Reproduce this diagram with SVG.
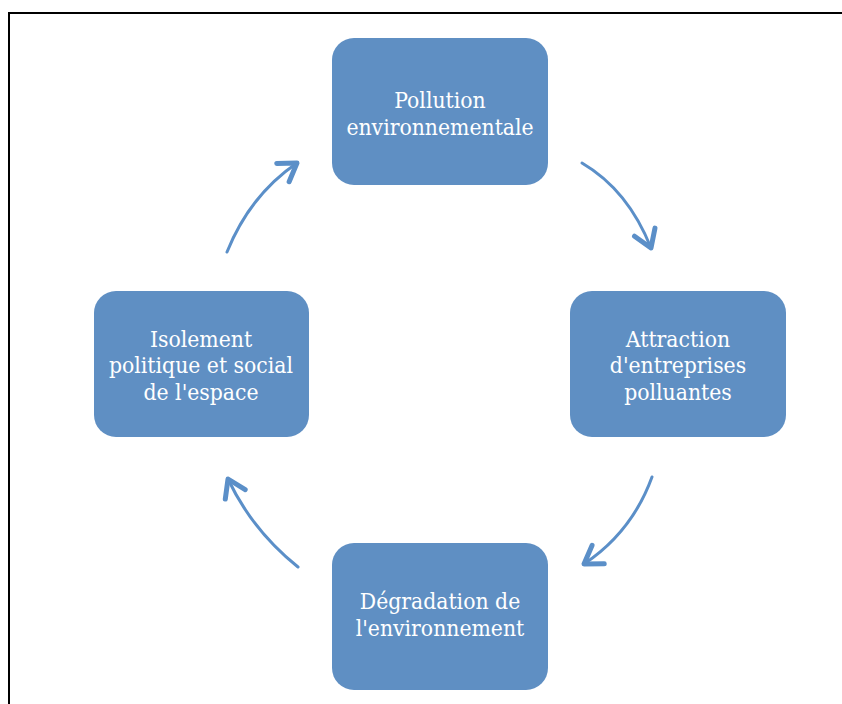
<svg xmlns="http://www.w3.org/2000/svg" width="842" height="704" viewBox="0 0 842 704">
<style>
.node rect{fill:#5f8fc3;}
.node text{fill:#ffffff;font-family:"DejaVu Serif Condensed","DejaVu Serif","Liberation Serif",serif;font-stretch:condensed;font-size:22.7px;text-anchor:middle;}
.conn path{fill:none;stroke:#5b8fc8;stroke-width:3;stroke-linecap:round;marker-end:url(#head);}
</style>
<defs>
<marker id="head" markerUnits="userSpaceOnUse" markerWidth="40" markerHeight="40" refX="0" refY="0" viewBox="-25 -20 40 40" orient="auto" overflow="visible">
<path d="M -17 -11 L 0 0 L -17 11" fill="none" stroke="#5b8fc8" stroke-width="5" stroke-linecap="round" stroke-linejoin="round"/>
</marker>
</defs>
<rect width="842" height="704" fill="#ffffff"/>
<path d="M 9 704 L 9 13 L 842 13" fill="none" stroke="#000000" stroke-width="2"/>
<g class="conn" id="connectors">
<path d="M 582 163 Q 628 190 651 248"/>
<path d="M 652 477 Q 632 532 584 564"/>
<path d="M 298 567 Q 252 530 228 479"/>
<path d="M 227 252 Q 250 195 297 163"/>
</g>
<g class="node" id="n-pollution">
<rect x="332" y="38" width="216" height="147" rx="22"/>
<text x="440" y="108">Pollution</text>
<text x="440" y="135">environnementale</text>
</g>
<g class="node" id="n-attraction">
<rect x="570" y="291" width="216" height="146" rx="22"/>
<text x="678" y="347">Attraction</text>
<text x="678" y="373">d'entreprises</text>
<text x="678" y="400">polluantes</text>
</g>
<g class="node" id="n-degradation">
<rect x="332" y="543" width="216" height="147" rx="22"/>
<text x="440" y="609">Dégradation de</text>
<text x="440" y="636">l'environnement</text>
</g>
<g class="node" id="n-isolement">
<rect x="94" y="291" width="215" height="146" rx="22"/>
<text x="201" y="347">Isolement</text>
<text x="201" y="373">politique et social</text>
<text x="201" y="400">de l'espace</text>
</g>
</svg>
